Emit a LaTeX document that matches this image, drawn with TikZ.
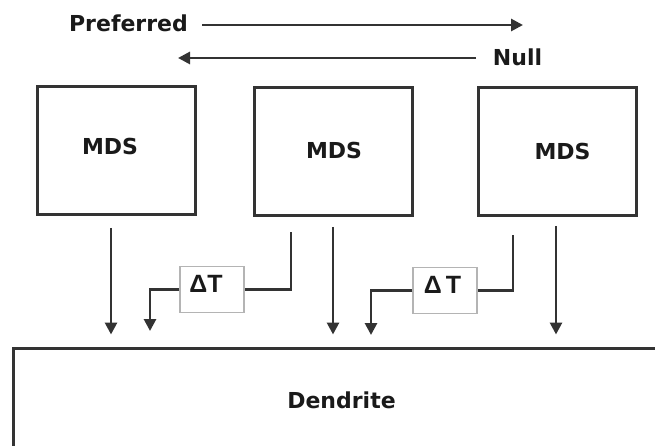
\documentclass[tikz,border=0pt]{standalone}
\usepackage{fontspec}
\setmainfont{DejaVu Sans}
\newfontfamily\deltafont{Liberation Sans}
\usetikzlibrary{arrows.meta}
\definecolor{ink}{HTML}{333333}
\definecolor{txt}{HTML}{1A1A1A}
\definecolor{light}{HTML}{B4B4B4}
\begin{document}
\begin{tikzpicture}[x=1pt,y=-1pt,
  mdsbox/.style={draw=ink,line width=3pt,minimum width=158pt,minimum height=128pt,inner sep=0pt},
  dtbox/.style={draw=light,line width=1.2pt,minimum width=64pt,minimum height=46pt,inner sep=0pt,fill=white},
  lbl/.style={font=\fontsize{22}{24}\selectfont\bfseries,text=txt,inner sep=0pt},
  dtlbl/.style={font=\deltafont\fontsize{25}{28}\selectfont\bfseries,text=txt,inner sep=0pt},
  ln/.style={draw=ink,line width=2.8pt},
  arr/.style={ln,-{Triangle[length=12pt,width=12pt]}},
]
\useasboundingbox (0,0) rectangle (655,446);
\clip (0,0) rectangle (655,446);
% direction labels
\node[lbl] (pref) at (128.5,23) {Preferred};
\node[lbl] (null) at (517.5,57) {Null};
\coordinate (pa) at (202,25);
\coordinate (pb) at (523,25);
\coordinate (na) at (476,58);
\coordinate (nb) at (178,58);
\draw[arr] (pa) -- (pb);
\draw[arr] (na) -- (nb);
% MDS boxes
\node[mdsbox] (m1) at (116.5,150.5) {};
\node[mdsbox] (m2) at (333,151.5) {};
\node[mdsbox] (m3) at (557.5,151.5) {};
\node[lbl] (t1) at (110,146.5) {MDS};
\node[lbl] (t2) at (334,150.5) {MDS};
\node[lbl] (t3) at (562.5,151) {MDS};
% dendrite
\node[draw=ink,line width=3pt,minimum width=667pt,minimum height=122pt,inner sep=0pt] (d) at (346.5,409) {};
\node[lbl] (dt) at (341.5,400) {Dendrite};
% delay boxes
\node[dtbox] (dt1) at (212,289.5) {};
\node[dtbox] (dt2) at (445,290.5) {};
\node[dtlbl] (dl1) at (206,283.5) {ΔT};
\node[dtlbl] (dl2) at (442.5,285) {Δ\kern4ptT};
% direct arrows
\coordinate (a1) at (111,228);
\coordinate (a2) at (333,227);
\coordinate (a3) at (556,226);
\draw[arr,shorten >=12pt] (a1) -- (a1 |- d.north);
\draw[arr,shorten >=12pt] (a2) -- (a2 |- d.north);
\draw[arr,shorten >=12pt] (a3) -- (a3 |- d.north);
% delayed paths
\coordinate (p1) at (291,232);
\coordinate (q1) at (150,331);
\coordinate (p2) at (513,235);
\coordinate (q2) at (371,335);
\draw[ln] (p1) |- (dt1.east);
\draw[arr] (dt1.west) -| (q1);
\draw[ln] (p2) |- (dt2.east);
\draw[arr] (dt2.west) -| (q2);
\end{tikzpicture}
\end{document}
